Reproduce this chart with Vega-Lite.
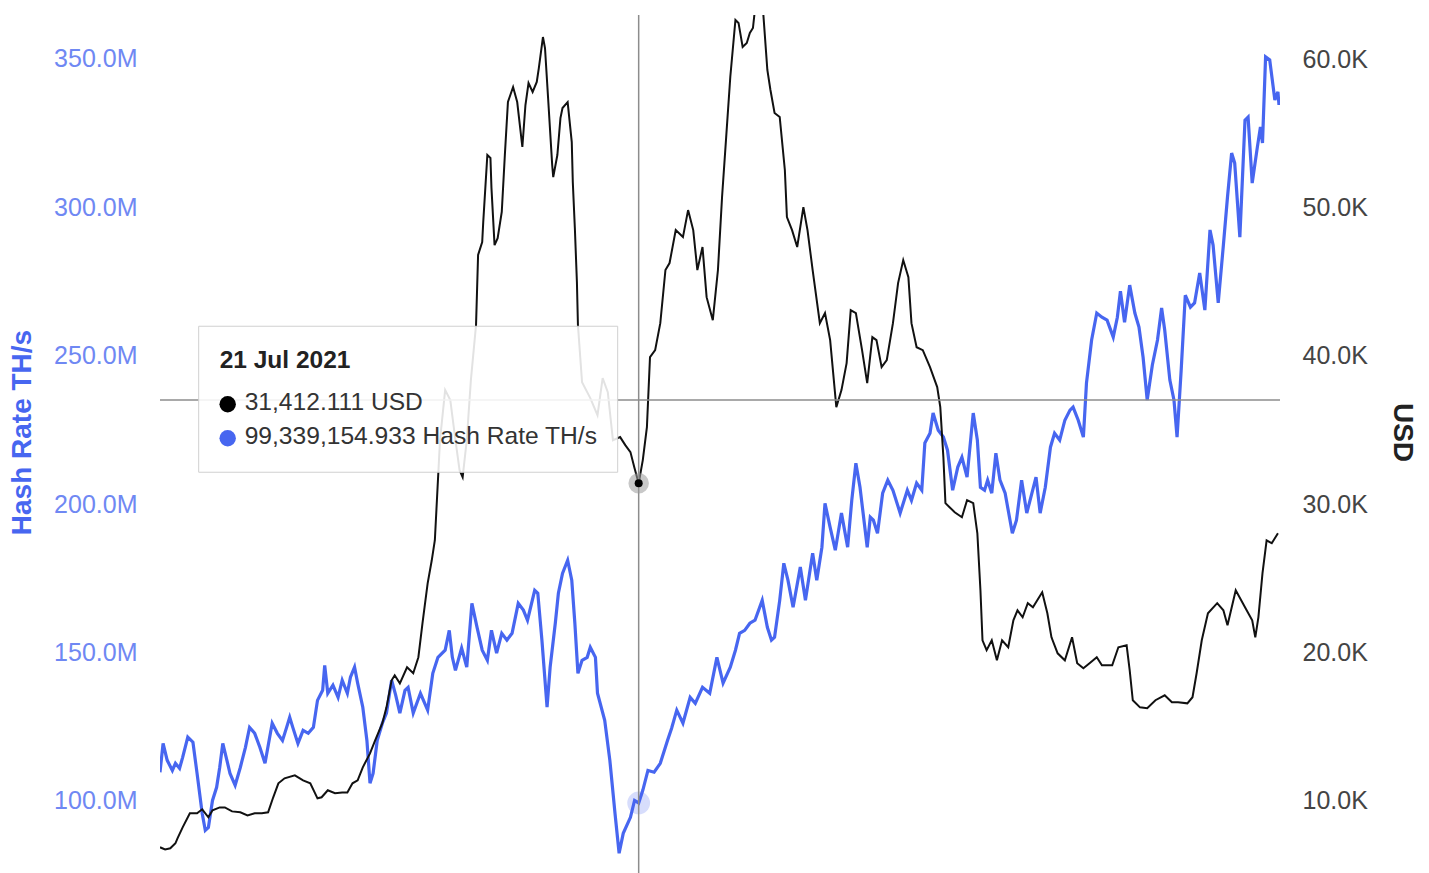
{
  "$schema": "https://vega.github.io/schema/vega-lite/v6.json",
  "width": 1120,
  "height": 858,
  "autosize": {"type": "none"},
  "padding": {"left": 160, "top": 15, "right": 149, "bottom": 0},
  "background": "white",
  "config": {
    "view": {"stroke": null},
    "font": "Liberation Sans",
    "axis": {"grid": false, "domain": false, "ticks": false, "tickSize": 0, "labelFont": "Liberation Sans", "labelFontSize": 25, "titleFont": "Liberation Sans", "titleFontSize": 28, "titleFontWeight": "bold"}
  },
  "datasets": {
    "hash": [
      {"date": "2020-04-12", "hash": 109700000}, {"date": "2020-04-15", "hash": 119400000}, {"date": "2020-04-19", "hash": 113700000}, {"date": "2020-04-24", "hash": 110300000}, {"date": "2020-04-27", "hash": 112700000},
      {"date": "2020-05-01", "hash": 111000000}, {"date": "2020-05-04", "hash": 114700000}, {"date": "2020-05-09", "hash": 121500000}, {"date": "2020-05-14", "hash": 119800000}, {"date": "2020-05-18", "hash": 109300000},
      {"date": "2020-05-23", "hash": 95800000}, {"date": "2020-05-26", "hash": 90100000}, {"date": "2020-05-29", "hash": 91100000}, {"date": "2020-06-02", "hash": 100200000}, {"date": "2020-06-06", "hash": 104600000},
      {"date": "2020-06-09", "hash": 111300000}, {"date": "2020-06-12", "hash": 119400000}, {"date": "2020-06-16", "hash": 113700000}, {"date": "2020-06-19", "hash": 109300000}, {"date": "2020-06-24", "hash": 105300000},
      {"date": "2020-06-29", "hash": 111300000}, {"date": "2020-07-04", "hash": 118100000}, {"date": "2020-07-08", "hash": 124800000}, {"date": "2020-07-13", "hash": 122800000}, {"date": "2020-07-18", "hash": 118100000},
      {"date": "2020-07-23", "hash": 112700000}, {"date": "2020-07-30", "hash": 126200000}, {"date": "2020-08-04", "hash": 122800000}, {"date": "2020-08-09", "hash": 120400000}, {"date": "2020-08-13", "hash": 124800000},
      {"date": "2020-08-16", "hash": 128200000}, {"date": "2020-08-19", "hash": 124800000}, {"date": "2020-08-24", "hash": 119400000}, {"date": "2020-08-29", "hash": 123800000}, {"date": "2020-09-03", "hash": 122800000},
      {"date": "2020-09-08", "hash": 124800000}, {"date": "2020-09-12", "hash": 133900000}, {"date": "2020-09-17", "hash": 137300000}, {"date": "2020-09-19", "hash": 145700000}, {"date": "2020-09-22", "hash": 136300000},
      {"date": "2020-09-27", "hash": 139000000}, {"date": "2020-10-02", "hash": 134900000}, {"date": "2020-10-06", "hash": 140700000}, {"date": "2020-10-11", "hash": 136300000}, {"date": "2020-10-14", "hash": 141700000},
      {"date": "2020-10-18", "hash": 145100000}, {"date": "2020-10-21", "hash": 139700000}, {"date": "2020-10-26", "hash": 131600000}, {"date": "2020-10-30", "hash": 120400000}, {"date": "2020-11-02", "hash": 106000000},
      {"date": "2020-11-05", "hash": 109300000}, {"date": "2020-11-09", "hash": 120400000}, {"date": "2020-11-14", "hash": 126200000}, {"date": "2020-11-18", "hash": 129600000}, {"date": "2020-11-23", "hash": 140700000},
      {"date": "2020-11-27", "hash": 135600000}, {"date": "2020-12-01", "hash": 129600000}, {"date": "2020-12-06", "hash": 137300000}, {"date": "2020-12-09", "hash": 138300000}, {"date": "2020-12-14", "hash": 129600000},
      {"date": "2020-12-21", "hash": 136300000}, {"date": "2020-12-28", "hash": 130600000}, {"date": "2021-01-02", "hash": 143000000}, {"date": "2021-01-07", "hash": 148400000}, {"date": "2021-01-14", "hash": 150800000},
      {"date": "2021-01-18", "hash": 157500000}, {"date": "2021-01-21", "hash": 148400000}, {"date": "2021-01-24", "hash": 144000000}, {"date": "2021-01-30", "hash": 151500000}, {"date": "2021-02-04", "hash": 145100000},
      {"date": "2021-02-09", "hash": 166600000}, {"date": "2021-02-14", "hash": 158500000}, {"date": "2021-02-19", "hash": 150800000}, {"date": "2021-02-24", "hash": 147400000}, {"date": "2021-02-28", "hash": 157500000},
      {"date": "2021-03-05", "hash": 149800000}, {"date": "2021-03-10", "hash": 156500000}, {"date": "2021-03-15", "hash": 154200000}, {"date": "2021-03-20", "hash": 156500000}, {"date": "2021-03-26", "hash": 166600000},
      {"date": "2021-03-31", "hash": 164300000}, {"date": "2021-04-04", "hash": 160900000}, {"date": "2021-04-11", "hash": 171000000}, {"date": "2021-04-14", "hash": 170000000}, {"date": "2021-04-18", "hash": 154200000},
      {"date": "2021-04-23", "hash": 131600000}, {"date": "2021-04-26", "hash": 145100000}, {"date": "2021-05-01", "hash": 159900000}, {"date": "2021-05-04", "hash": 170000000}, {"date": "2021-05-08", "hash": 176700000},
      {"date": "2021-05-13", "hash": 181100000}, {"date": "2021-05-17", "hash": 174400000}, {"date": "2021-05-20", "hash": 159900000}, {"date": "2021-05-23", "hash": 143000000}, {"date": "2021-05-27", "hash": 147400000},
      {"date": "2021-06-01", "hash": 148400000}, {"date": "2021-06-04", "hash": 151800000}, {"date": "2021-06-09", "hash": 148400000}, {"date": "2021-06-11", "hash": 136300000}, {"date": "2021-06-18", "hash": 127200000},
      {"date": "2021-06-23", "hash": 113700000}, {"date": "2021-06-28", "hash": 95800000}, {"date": "2021-07-02", "hash": 82400000}, {"date": "2021-07-06", "hash": 89100000}, {"date": "2021-07-13", "hash": 94500000},
      {"date": "2021-07-17", "hash": 100200000}, {"date": "2021-07-21", "hash": 99339154.933}, {"date": "2021-07-25", "hash": 103600000}, {"date": "2021-07-30", "hash": 110300000}, {"date": "2021-08-05", "hash": 109700000},
      {"date": "2021-08-11", "hash": 112700000}, {"date": "2021-08-18", "hash": 120400000}, {"date": "2021-08-22", "hash": 124500000}, {"date": "2021-08-27", "hash": 130600000}, {"date": "2021-09-02", "hash": 126200000},
      {"date": "2021-09-09", "hash": 134900000}, {"date": "2021-09-14", "hash": 132900000}, {"date": "2021-09-21", "hash": 138300000}, {"date": "2021-09-28", "hash": 136300000}, {"date": "2021-10-05", "hash": 148400000},
      {"date": "2021-10-11", "hash": 139700000}, {"date": "2021-10-18", "hash": 145100000}, {"date": "2021-10-23", "hash": 150800000}, {"date": "2021-10-27", "hash": 156500000}, {"date": "2021-11-01", "hash": 157500000},
      {"date": "2021-11-06", "hash": 159900000}, {"date": "2021-11-11", "hash": 160900000}, {"date": "2021-11-18", "hash": 167600000}, {"date": "2021-11-23", "hash": 158500000}, {"date": "2021-11-27", "hash": 154200000},
      {"date": "2021-11-30", "hash": 155200000}, {"date": "2021-12-05", "hash": 167600000}, {"date": "2021-12-09", "hash": 180100000}, {"date": "2021-12-13", "hash": 174400000}, {"date": "2021-12-18", "hash": 165300000},
      {"date": "2021-12-25", "hash": 178800000}, {"date": "2021-12-30", "hash": 167600000}, {"date": "2022-01-06", "hash": 183500000}, {"date": "2022-01-10", "hash": 174400000}, {"date": "2022-01-15", "hash": 185500000},
      {"date": "2022-01-18", "hash": 200300000}, {"date": "2022-01-23", "hash": 192200000}, {"date": "2022-01-28", "hash": 184500000}, {"date": "2022-02-03", "hash": 197000000}, {"date": "2022-02-09", "hash": 185500000},
      {"date": "2022-02-13", "hash": 201300000}, {"date": "2022-02-17", "hash": 213800000}, {"date": "2022-02-21", "hash": 205700000}, {"date": "2022-02-28", "hash": 185500000}, {"date": "2022-03-03", "hash": 195600000},
      {"date": "2022-03-06", "hash": 194600000}, {"date": "2022-03-10", "hash": 190200000}, {"date": "2022-03-15", "hash": 203700000}, {"date": "2022-03-20", "hash": 208100000}, {"date": "2022-03-25", "hash": 204700000},
      {"date": "2022-04-01", "hash": 197000000}, {"date": "2022-04-08", "hash": 204700000}, {"date": "2022-04-12", "hash": 201300000}, {"date": "2022-04-17", "hash": 207100000}, {"date": "2022-04-22", "hash": 204700000},
      {"date": "2022-04-25", "hash": 220600000}, {"date": "2022-04-30", "hash": 223900000}, {"date": "2022-05-03", "hash": 230700000}, {"date": "2022-05-08", "hash": 224900000}, {"date": "2022-05-13", "hash": 222600000},
      {"date": "2022-05-17", "hash": 218200000}, {"date": "2022-05-22", "hash": 204700000}, {"date": "2022-05-27", "hash": 212500000}, {"date": "2022-05-31", "hash": 215800000}, {"date": "2022-06-05", "hash": 209100000},
      {"date": "2022-06-11", "hash": 230700000}, {"date": "2022-06-15", "hash": 221600000}, {"date": "2022-06-18", "hash": 205700000}, {"date": "2022-06-22", "hash": 204700000}, {"date": "2022-06-25", "hash": 208100000},
      {"date": "2022-06-29", "hash": 203700000}, {"date": "2022-07-03", "hash": 217200000}, {"date": "2022-07-07", "hash": 208100000}, {"date": "2022-07-12", "hash": 203700000}, {"date": "2022-07-19", "hash": 190200000},
      {"date": "2022-07-23", "hash": 194600000}, {"date": "2022-07-28", "hash": 208100000}, {"date": "2022-08-02", "hash": 197000000}, {"date": "2022-08-07", "hash": 203700000}, {"date": "2022-08-11", "hash": 209100000},
      {"date": "2022-08-15", "hash": 197000000}, {"date": "2022-08-20", "hash": 205700000}, {"date": "2022-08-25", "hash": 219200000}, {"date": "2022-08-29", "hash": 223900000}, {"date": "2022-09-03", "hash": 221600000},
      {"date": "2022-09-08", "hash": 228300000}, {"date": "2022-09-13", "hash": 231700000}, {"date": "2022-09-16", "hash": 232700000}, {"date": "2022-09-21", "hash": 228300000}, {"date": "2022-09-26", "hash": 222600000},
      {"date": "2022-09-29", "hash": 240800000}, {"date": "2022-10-04", "hash": 255300000}, {"date": "2022-10-09", "hash": 264400000}, {"date": "2022-10-14", "hash": 263000000}, {"date": "2022-10-19", "hash": 262000000},
      {"date": "2022-10-25", "hash": 256300000}, {"date": "2022-10-29", "hash": 263000000}, {"date": "2022-11-01", "hash": 271800000}, {"date": "2022-11-05", "hash": 261300000}, {"date": "2022-11-10", "hash": 273800000},
      {"date": "2022-11-15", "hash": 264400000}, {"date": "2022-11-19", "hash": 259700000}, {"date": "2022-11-23", "hash": 249500000}, {"date": "2022-11-27", "hash": 235100000}, {"date": "2022-12-02", "hash": 246900000},
      {"date": "2022-12-07", "hash": 255300000}, {"date": "2022-12-11", "hash": 266100000}, {"date": "2022-12-14", "hash": 258700000}, {"date": "2022-12-19", "hash": 241800000}, {"date": "2022-12-23", "hash": 235100000},
      {"date": "2022-12-26", "hash": 222600000}, {"date": "2022-12-30", "hash": 245200000}, {"date": "2023-01-03", "hash": 270400000}, {"date": "2023-01-08", "hash": 266400000}, {"date": "2023-01-12", "hash": 267800000},
      {"date": "2023-01-17", "hash": 277900000}, {"date": "2023-01-22", "hash": 265400000}, {"date": "2023-01-27", "hash": 292400000}, {"date": "2023-01-30", "hash": 287300000}, {"date": "2023-02-04", "hash": 267800000},
      {"date": "2023-02-09", "hash": 287300000}, {"date": "2023-02-13", "hash": 303500000}, {"date": "2023-02-17", "hash": 318300000}, {"date": "2023-02-20", "hash": 314900000}, {"date": "2023-02-25", "hash": 290000000},
      {"date": "2023-03-02", "hash": 329400000}, {"date": "2023-03-05", "hash": 330400000}, {"date": "2023-03-09", "hash": 308200000}, {"date": "2023-03-14", "hash": 320300000}, {"date": "2023-03-17", "hash": 327100000},
      {"date": "2023-03-19", "hash": 321700000}, {"date": "2023-03-22", "hash": 350700000}, {"date": "2023-03-26", "hash": 349700000}, {"date": "2023-03-31", "hash": 336200000}, {"date": "2023-04-03", "hash": 338900000},
      {"date": "2023-04-04", "hash": 334500000}
    ],
    "price": [
      {"date": "2020-04-12", "usd": 6880}, {"date": "2020-04-17", "usd": 6740}, {"date": "2020-04-22", "usd": 6810}, {"date": "2020-04-27", "usd": 7150}, {"date": "2020-04-29", "usd": 7480},
      {"date": "2020-05-04", "usd": 8220}, {"date": "2020-05-11", "usd": 9170}, {"date": "2020-05-18", "usd": 9170}, {"date": "2020-05-23", "usd": 9440}, {"date": "2020-05-29", "usd": 8900},
      {"date": "2020-06-02", "usd": 9370}, {"date": "2020-06-09", "usd": 9570}, {"date": "2020-06-14", "usd": 9570}, {"date": "2020-06-21", "usd": 9300}, {"date": "2020-06-29", "usd": 9240},
      {"date": "2020-07-06", "usd": 9030}, {"date": "2020-07-13", "usd": 9170}, {"date": "2020-07-20", "usd": 9170}, {"date": "2020-07-26", "usd": 9240}, {"date": "2020-07-31", "usd": 10250},
      {"date": "2020-08-05", "usd": 11190}, {"date": "2020-08-11", "usd": 11530}, {"date": "2020-08-21", "usd": 11730}, {"date": "2020-08-29", "usd": 11390}, {"date": "2020-09-05", "usd": 11190},
      {"date": "2020-09-12", "usd": 10180}, {"date": "2020-09-16", "usd": 10250}, {"date": "2020-09-22", "usd": 10720}, {"date": "2020-09-29", "usd": 10520}, {"date": "2020-10-06", "usd": 10580},
      {"date": "2020-10-11", "usd": 10580}, {"date": "2020-10-16", "usd": 11190}, {"date": "2020-10-21", "usd": 11390}, {"date": "2020-10-26", "usd": 12270}, {"date": "2020-11-02", "usd": 13210},
      {"date": "2020-11-07", "usd": 14090}, {"date": "2020-11-14", "usd": 15240}, {"date": "2020-11-18", "usd": 16310}, {"date": "2020-11-23", "usd": 18130}, {"date": "2020-11-26", "usd": 18470},
      {"date": "2020-12-01", "usd": 17930}, {"date": "2020-12-08", "usd": 19010}, {"date": "2020-12-14", "usd": 18610}, {"date": "2020-12-19", "usd": 19690}, {"date": "2020-12-23", "usd": 21980},
      {"date": "2020-12-25", "usd": 23060}, {"date": "2020-12-28", "usd": 24670}, {"date": "2021-01-01", "usd": 26220}, {"date": "2021-01-04", "usd": 27570}, {"date": "2021-01-06", "usd": 30270},
      {"date": "2021-01-09", "usd": 34310}, {"date": "2021-01-14", "usd": 37690}, {"date": "2021-01-19", "usd": 37010}, {"date": "2021-01-24", "usd": 34310}, {"date": "2021-01-28", "usd": 32290},
      {"date": "2021-01-31", "usd": 31820}, {"date": "2021-02-04", "usd": 34310}, {"date": "2021-02-08", "usd": 38360}, {"date": "2021-02-13", "usd": 42070}, {"date": "2021-02-15", "usd": 46790},
      {"date": "2021-02-19", "usd": 47660}, {"date": "2021-02-20", "usd": 49010}, {"date": "2021-02-24", "usd": 53530}, {"date": "2021-02-27", "usd": 53330}, {"date": "2021-02-28", "usd": 51300},
      {"date": "2021-03-03", "usd": 47460}, {"date": "2021-03-06", "usd": 47930}, {"date": "2021-03-10", "usd": 49690}, {"date": "2021-03-13", "usd": 53530}, {"date": "2021-03-16", "usd": 57100},
      {"date": "2021-03-21", "usd": 58110}, {"date": "2021-03-25", "usd": 57100}, {"date": "2021-03-30", "usd": 54070}, {"date": "2021-04-02", "usd": 56900}, {"date": "2021-04-05", "usd": 58380},
      {"date": "2021-04-09", "usd": 57780}, {"date": "2021-04-13", "usd": 58450}, {"date": "2021-04-15", "usd": 59390}, {"date": "2021-04-19", "usd": 61480}, {"date": "2021-04-21", "usd": 60740},
      {"date": "2021-04-24", "usd": 57370}, {"date": "2021-04-28", "usd": 52850}, {"date": "2021-04-29", "usd": 52040}, {"date": "2021-05-03", "usd": 53530}, {"date": "2021-05-06", "usd": 56020},
      {"date": "2021-05-08", "usd": 56700}, {"date": "2021-05-13", "usd": 57100}, {"date": "2021-05-17", "usd": 54400}, {"date": "2021-05-18", "usd": 51710}, {"date": "2021-05-20", "usd": 48610},
      {"date": "2021-05-22", "usd": 44970}, {"date": "2021-05-23", "usd": 42070}, {"date": "2021-05-27", "usd": 38220}, {"date": "2021-06-04", "usd": 37150}, {"date": "2021-06-11", "usd": 36000},
      {"date": "2021-06-16", "usd": 38490}, {"date": "2021-06-21", "usd": 37550}, {"date": "2021-06-26", "usd": 34310}, {"date": "2021-07-03", "usd": 34520}, {"date": "2021-07-08", "usd": 33980},
      {"date": "2021-07-13", "usd": 33510}, {"date": "2021-07-17", "usd": 32430}, {"date": "2021-07-21", "usd": 31412.111}, {"date": "2021-07-25", "usd": 32970}, {"date": "2021-07-29", "usd": 35190},
      {"date": "2021-08-01", "usd": 39910}, {"date": "2021-08-06", "usd": 40380}, {"date": "2021-08-11", "usd": 42200}, {"date": "2021-08-16", "usd": 45780}, {"date": "2021-08-20", "usd": 46250},
      {"date": "2021-08-26", "usd": 48470}, {"date": "2021-09-02", "usd": 48000}, {"date": "2021-09-07", "usd": 49820}, {"date": "2021-09-12", "usd": 48470}, {"date": "2021-09-16", "usd": 45780},
      {"date": "2021-09-21", "usd": 47330}, {"date": "2021-09-25", "usd": 43950}, {"date": "2021-10-01", "usd": 42400}, {"date": "2021-10-06", "usd": 45780}, {"date": "2021-10-10", "usd": 50700},
      {"date": "2021-10-14", "usd": 54740}, {"date": "2021-10-18", "usd": 58790}, {"date": "2021-10-23", "usd": 62630}, {"date": "2021-10-26", "usd": 62430}, {"date": "2021-10-30", "usd": 60810},
      {"date": "2021-11-03", "usd": 61080}, {"date": "2021-11-06", "usd": 61750}, {"date": "2021-11-09", "usd": 62090}, {"date": "2021-11-12", "usd": 64000}, {"date": "2021-11-16", "usd": 65000},
      {"date": "2021-11-19", "usd": 63100}, {"date": "2021-11-23", "usd": 59260}, {"date": "2021-11-26", "usd": 57910}, {"date": "2021-11-30", "usd": 56360}, {"date": "2021-12-05", "usd": 56090},
      {"date": "2021-12-10", "usd": 52520}, {"date": "2021-12-12", "usd": 49350}, {"date": "2021-12-17", "usd": 48470}, {"date": "2021-12-22", "usd": 47330}, {"date": "2021-12-28", "usd": 50020},
      {"date": "2022-01-01", "usd": 48470}, {"date": "2022-01-06", "usd": 45780}, {"date": "2022-01-13", "usd": 42200}, {"date": "2022-01-18", "usd": 42880}, {"date": "2022-01-23", "usd": 41060},
      {"date": "2022-01-29", "usd": 36540}, {"date": "2022-02-03", "usd": 37690}, {"date": "2022-02-08", "usd": 39510}, {"date": "2022-02-12", "usd": 43080}, {"date": "2022-02-17", "usd": 42880},
      {"date": "2022-02-23", "usd": 40380}, {"date": "2022-02-28", "usd": 38160}, {"date": "2022-03-05", "usd": 41260}, {"date": "2022-03-09", "usd": 41060}, {"date": "2022-03-14", "usd": 39240},
      {"date": "2022-03-19", "usd": 39710}, {"date": "2022-03-25", "usd": 42200}, {"date": "2022-03-30", "usd": 44900}, {"date": "2022-04-04", "usd": 46450}, {"date": "2022-04-09", "usd": 45300},
      {"date": "2022-04-12", "usd": 42200}, {"date": "2022-04-17", "usd": 40580}, {"date": "2022-04-23", "usd": 40380}, {"date": "2022-04-30", "usd": 39240}, {"date": "2022-05-07", "usd": 37890},
      {"date": "2022-05-10", "usd": 36540}, {"date": "2022-05-13", "usd": 33170}, {"date": "2022-05-15", "usd": 30070}, {"date": "2022-05-19", "usd": 29800}, {"date": "2022-05-24", "usd": 29460},
      {"date": "2022-05-31", "usd": 29120}, {"date": "2022-06-05", "usd": 30270}, {"date": "2022-06-11", "usd": 30070}, {"date": "2022-06-15", "usd": 28040}, {"date": "2022-06-18", "usd": 24200},
      {"date": "2022-06-20", "usd": 20830}, {"date": "2022-06-24", "usd": 20160}, {"date": "2022-06-29", "usd": 20830}, {"date": "2022-07-04", "usd": 19480}, {"date": "2022-07-09", "usd": 20830},
      {"date": "2022-07-15", "usd": 20360}, {"date": "2022-07-20", "usd": 22180}, {"date": "2022-07-24", "usd": 22850}, {"date": "2022-07-29", "usd": 22380}, {"date": "2022-08-03", "usd": 23330},
      {"date": "2022-08-08", "usd": 23060}, {"date": "2022-08-17", "usd": 24070}, {"date": "2022-08-22", "usd": 22650}, {"date": "2022-08-26", "usd": 21030}, {"date": "2022-09-01", "usd": 19950},
      {"date": "2022-09-08", "usd": 19480}, {"date": "2022-09-15", "usd": 21030}, {"date": "2022-09-20", "usd": 19280}, {"date": "2022-09-26", "usd": 18940}, {"date": "2022-10-02", "usd": 19280},
      {"date": "2022-10-09", "usd": 19690}, {"date": "2022-10-14", "usd": 19150}, {"date": "2022-10-24", "usd": 19150}, {"date": "2022-10-30", "usd": 20360}, {"date": "2022-11-07", "usd": 20490},
      {"date": "2022-11-10", "usd": 18810}, {"date": "2022-11-13", "usd": 16790}, {"date": "2022-11-20", "usd": 16310}, {"date": "2022-11-27", "usd": 16250}, {"date": "2022-12-05", "usd": 16790},
      {"date": "2022-12-14", "usd": 17120}, {"date": "2022-12-21", "usd": 16650}, {"date": "2022-12-27", "usd": 16650}, {"date": "2023-01-05", "usd": 16580}, {"date": "2023-01-10", "usd": 16990},
      {"date": "2023-01-14", "usd": 18610}, {"date": "2023-01-19", "usd": 20830}, {"date": "2023-01-25", "usd": 22650}, {"date": "2023-02-03", "usd": 23330}, {"date": "2023-02-09", "usd": 22850},
      {"date": "2023-02-13", "usd": 21840}, {"date": "2023-02-21", "usd": 24200}, {"date": "2023-03-02", "usd": 23060}, {"date": "2023-03-09", "usd": 22180}, {"date": "2023-03-12", "usd": 21030},
      {"date": "2023-03-15", "usd": 22380}, {"date": "2023-03-19", "usd": 25350}, {"date": "2023-03-23", "usd": 27570}, {"date": "2023-03-28", "usd": 27370}, {"date": "2023-04-03", "usd": 28040}
    ],
    "tip": [
      {"date": "2021-07-21", "usd": 31412.111, "hash": 99339154.933, "title": "21 Jul 2021", "usdText": "31,412.111 USD", "hashText": "99,339,154.933 Hash Rate TH/s"}
    ]
  },
  "layer": [
    {
      "layer": [
        {
          "data": {"name": "hash"},
          "mark": {"type": "line", "color": "#4766f0", "strokeWidth": 3.2, "strokeJoin": "miter", "clip": true},
          "encoding": {
            "x": {"field": "date", "type": "temporal", "scale": {"type": "utc", "domain": [{"year": 2020, "month": 4, "date": 12, "utc": true}, {"year": 2023, "month": 4, "date": 5, "utc": true}]}, "axis": null},
            "y": {"field": "hash", "type": "quantitative", "scale": {"domain": [75740000, 364820000], "nice": false, "zero": false},
              "axis": {"orient": "left", "values": [100000000, 150000000, 200000000, 250000000, 300000000, 350000000], "format": ".4s", "labelColor": "#6f88f3", "labelPadding": 23, "title": "Hash Rate TH/s", "titleColor": "#4766f0", "titleAngle": -90, "titleX": -138, "titleY": 417, "titleAlign": "center", "titleBaseline": "middle"}}
          }
        },
        {
          "data": {"name": "tip"},
          "mark": {"type": "point", "filled": true, "color": "#4766f0", "opacity": 0.22, "size": 520},
          "encoding": {
            "x": {"field": "date", "type": "temporal"},
            "y": {"field": "hash", "type": "quantitative"}
          }
        }
      ]
    },
    {
      "layer": [
        {
          "data": {"name": "price"},
          "mark": {"type": "line", "color": "#111111", "strokeWidth": 2, "clip": true},
          "encoding": {
            "x": {"field": "date", "type": "temporal"},
            "y": {"field": "usd", "type": "quantitative", "scale": {"domain": [5148, 62965], "nice": false, "zero": false},
              "axis": {"orient": "right", "values": [10000, 20000, 30000, 40000, 50000, 60000], "labelExpr": "replace(format(datum.value, '.3s'), 'k', 'K')", "labelColor": "#444444", "labelPadding": 22, "title": "USD", "titleColor": "#222222", "titleAngle": 90, "titleX": 121, "titleY": 417, "titleAlign": "center", "titleBaseline": "middle"}}
          }
        },
        {
          "data": {"name": "tip"},
          "mark": {"type": "rule", "color": "#8c8c8c", "strokeWidth": 1.5},
          "encoding": {"x": {"field": "date", "type": "temporal"}}
        },
        {
          "data": {"name": "tip"},
          "mark": {"type": "rule", "color": "#8c8c8c", "strokeWidth": 1.5},
          "encoding": {"y": {"datum": 37020, "type": "quantitative", "title": "USD"}}
        },
        {
          "data": {"name": "tip"},
          "mark": {"type": "rect", "fill": "white", "fillOpacity": 0.88, "stroke": "#d0d0d0", "strokeWidth": 1, "xOffset": -440, "x2Offset": -21, "yOffset": -157, "y2Offset": -11},
          "encoding": {
            "x": {"field": "date", "type": "temporal"},
            "x2": {"field": "date"},
            "y": {"field": "usd", "type": "quantitative", "title": "USD"},
            "y2": {"field": "usd"}
          }
        },
        {
          "data": {"name": "tip"},
          "mark": {"type": "text", "align": "left", "baseline": "middle", "dx": -419, "dy": -122, "font": "Liberation Sans", "fontSize": 24.5, "fontWeight": "bold", "color": "#222222"},
          "encoding": {
            "x": {"field": "date", "type": "temporal"},
            "y": {"field": "usd", "type": "quantitative", "title": "USD"},
            "text": {"field": "title"}
          }
        },
        {
          "data": {"name": "tip"},
          "mark": {"type": "text", "align": "left", "baseline": "middle", "dx": -394, "dy": -80, "font": "Liberation Sans", "fontSize": 24.6, "color": "#333333"},
          "encoding": {
            "x": {"field": "date", "type": "temporal"},
            "y": {"field": "usd", "type": "quantitative", "title": "USD"},
            "text": {"field": "usdText"}
          }
        },
        {
          "data": {"name": "tip"},
          "mark": {"type": "text", "align": "left", "baseline": "middle", "dx": -394, "dy": -46, "font": "Liberation Sans", "fontSize": 24.6, "color": "#333333"},
          "encoding": {
            "x": {"field": "date", "type": "temporal"},
            "y": {"field": "usd", "type": "quantitative", "title": "USD"},
            "text": {"field": "hashText"}
          }
        },
        {
          "data": {"name": "tip"},
          "mark": {"type": "point", "filled": true, "color": "#000000", "opacity": 1, "size": 270, "xOffset": -411, "yOffset": -79},
          "encoding": {
            "x": {"field": "date", "type": "temporal"},
            "y": {"field": "usd", "type": "quantitative", "title": "USD"}
          }
        },
        {
          "data": {"name": "tip"},
          "mark": {"type": "point", "filled": true, "color": "#4766f0", "opacity": 1, "size": 270, "xOffset": -411, "yOffset": -45},
          "encoding": {
            "x": {"field": "date", "type": "temporal"},
            "y": {"field": "usd", "type": "quantitative", "title": "USD"}
          }
        },
        {
          "data": {"name": "tip"},
          "mark": {"type": "point", "filled": true, "color": "#9a9a9a", "opacity": 0.55, "size": 420},
          "encoding": {
            "x": {"field": "date", "type": "temporal"},
            "y": {"field": "usd", "type": "quantitative", "title": "USD"}
          }
        },
        {
          "data": {"name": "tip"},
          "mark": {"type": "point", "filled": true, "color": "#000000", "opacity": 1, "size": 64},
          "encoding": {
            "x": {"field": "date", "type": "temporal"},
            "y": {"field": "usd", "type": "quantitative", "title": "USD"}
          }
        }
      ]
    }
  ],
  "resolve": {"scale": {"y": "independent"}}
}
